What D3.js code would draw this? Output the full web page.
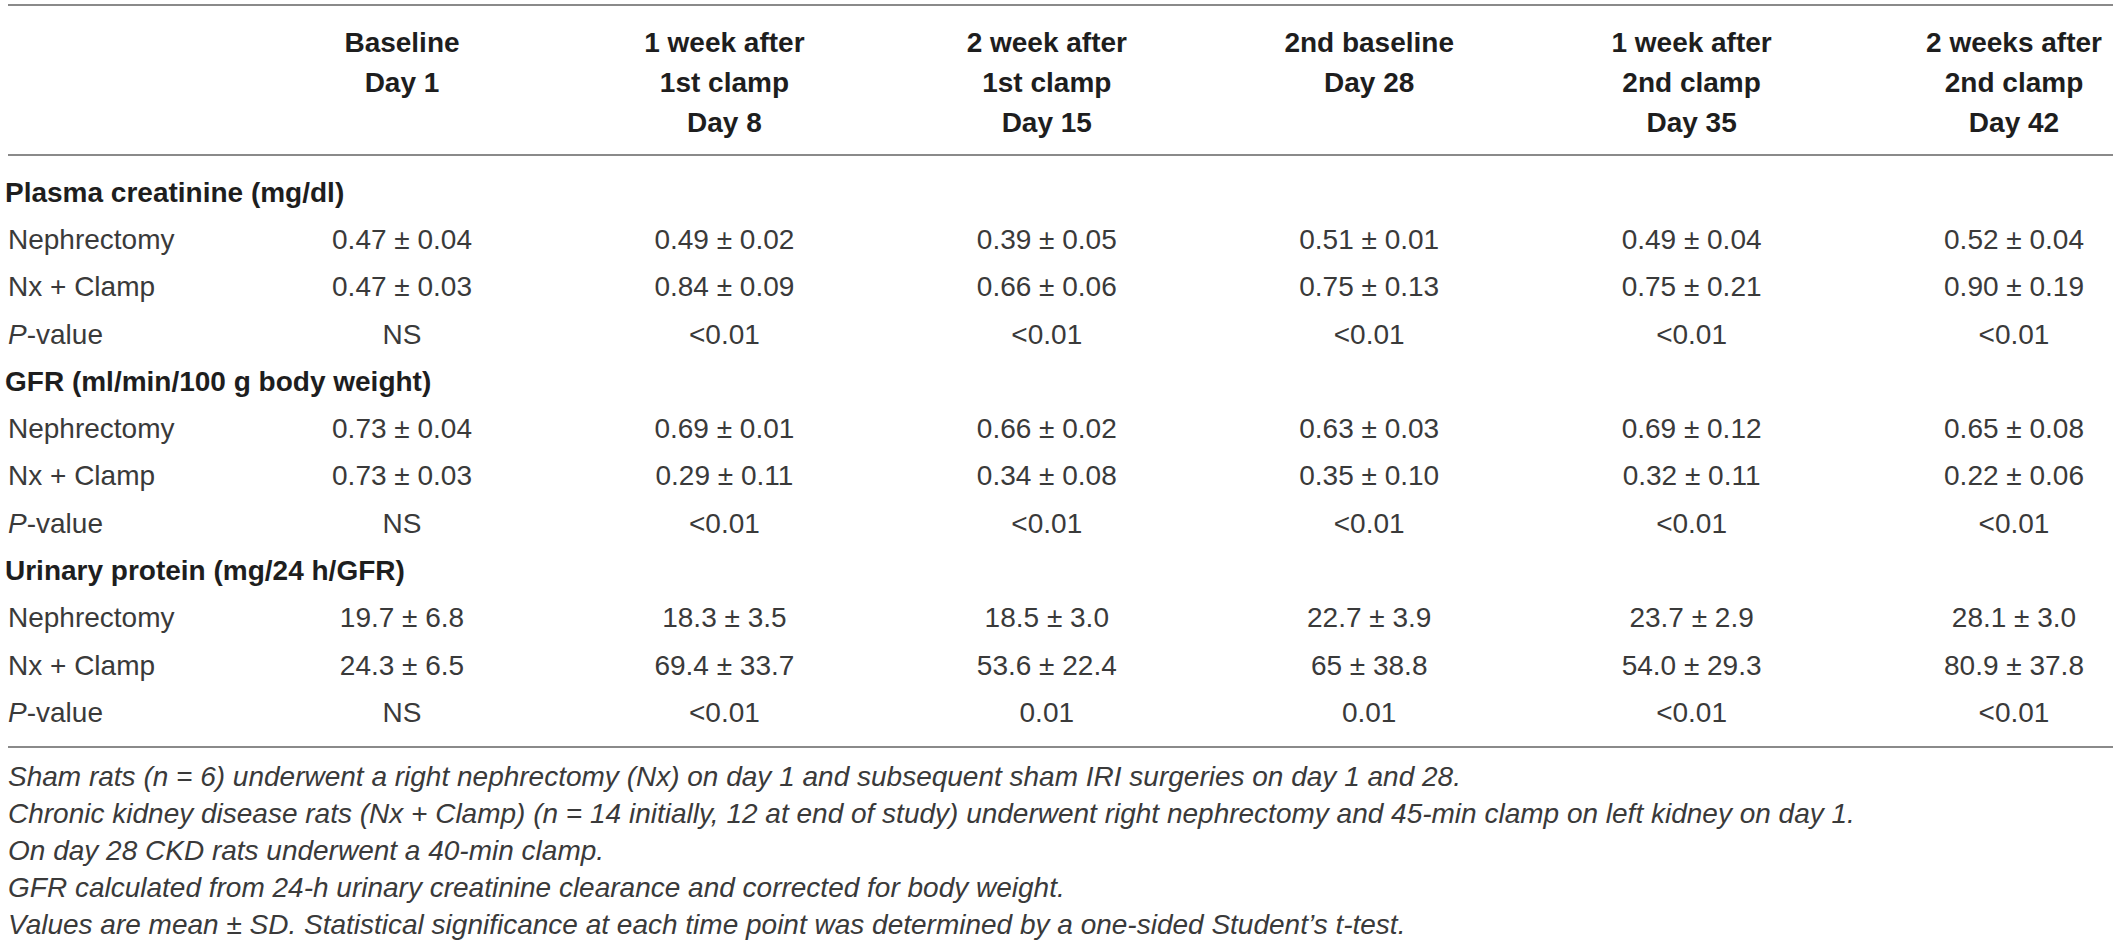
<!DOCTYPE html>
<html>
<head>
<meta charset="utf-8">
<script src="https://cdn.jsdelivr.net/npm/d3@7"></script>
<style>
  html, body { margin: 0; padding: 0; background: #fff; }
  svg { display: block; font-family: "Liberation Sans", Arial, Helvetica, sans-serif; }
</style>
</head>
<body>
<svg id="fig" width="2120" height="945"></svg>
<script>
// column headers (one array per column, one entry per line)
const headers = [
    ["Baseline", "Day 1"],
    ["1 week after", "1st clamp", "Day 8"],
    ["2 week after", "1st clamp", "Day 15"],
    ["2nd baseline", "Day 28"],
    ["1 week after", "2nd clamp", "Day 35"],
    ["2 weeks after", "2nd clamp", "Day 42"]
];

const sections = [
    "Plasma creatinine (mg/dl)",
    "GFR (ml/min/100 g body weight)",
    "Urinary protein (mg/24 h/GFR)"
];
const groupLabels = ["Nephrectomy", "Nx + Clamp", "P-value"];

// plasma creatinine
const creatNx = ["0.47 ± 0.04", "0.49 ± 0.02", "0.39 ± 0.05", "0.51 ± 0.01", "0.49 ± 0.04", "0.52 ± 0.04"];
const creatClamp = ["0.47 ± 0.03", "0.84 ± 0.09", "0.66 ± 0.06", "0.75 ± 0.13", "0.75 ± 0.21", "0.90 ± 0.19"];
const creatP = ["NS", "<0.01", "<0.01", "<0.01", "<0.01", "<0.01"];

// GFR
const gfrNx = ["0.73 ± 0.04", "0.69 ± 0.01", "0.66 ± 0.02", "0.63 ± 0.03", "0.69 ± 0.12", "0.65 ± 0.08"];
const gfrClamp = ["0.73 ± 0.03", "0.29 ± 0.11", "0.34 ± 0.08", "0.35 ± 0.10", "0.32 ± 0.11", "0.22 ± 0.06"];
const gfrP = ["NS", "<0.01", "<0.01", "<0.01", "<0.01", "<0.01"];

// urinary protein
const protNx = ["19.7 ± 6.8", "18.3 ± 3.5", "18.5 ± 3.0", "22.7 ± 3.9", "23.7 ± 2.9", "28.1 ± 3.0"];
const protClamp = ["24.3 ± 6.5", "69.4 ± 33.7", "53.6 ± 22.4", "65 ± 38.8", "54.0 ± 29.3", "80.9 ± 37.8"];
const protP = ["NS", "<0.01", "0.01", "0.01", "<0.01", "<0.01"];

const footnotes = [
    "Sham rats (n = 6) underwent a right nephrectomy (Nx) on day 1 and subsequent sham IRI surgeries on day 1 and 28.",
    "Chronic kidney disease rats (Nx + Clamp) (n = 14 initially, 12 at end of study) underwent right nephrectomy and 45-min clamp on left kidney on day 1.",
    "On day 28 CKD rats underwent a 40-min clamp.",
    "GFR calculated from 24-h urinary creatinine clearance and corrected for body weight.",
    "Values are mean ± SD. Statistical significance at each time point was determined by a one-sided Student’s t-test."
];

// rows of the body, built from the arrays above
const blocks = [
    [creatNx, creatClamp, creatP],
    [gfrNx, gfrClamp, gfrP],
    [protNx, protClamp, protP]
];
const rows = [];
blocks.forEach((b, s) => {
    rows.push({type: "section", label: sections[s]});
    b.forEach((vals, g) => rows.push({type: "data", label: groupLabels[g], values: vals}));
});

const svg = d3.select("#fig");
const fontSize = 28;
const textColor = "#3a3a3a";
const boldColor = "#1e1e1e";
const ruleColor = "#8a8a8a";

const xLeft = 8, xRight = 2113;
const xCol = d3.scaleLinear().domain([0, headers.length - 1]).range([402, 2014]);
const yHead = d3.scaleLinear().domain([0, 1]).range([42, 82]);
const yRow = d3.scaleLinear().domain([0, rows.length - 1]).range([192, 712]);
const yNote = d3.scaleLinear().domain([0, footnotes.length - 1]).range([776, 924]);

// horizontal rules
svg.selectAll("line.rule")
    .data([5, 155, 747])
    .enter()
    .append("line")
    .attr("class", "rule")
    .attr("x1", xLeft).attr("x2", xRight)
    .attr("y1", d => d).attr("y2", d => d)
    .attr("stroke", ruleColor)
    .attr("stroke-width", 2);

// header
const head = svg.selectAll("g.head")
    .data(headers)
    .enter()
    .append("g")
    .attr("class", "head");

head.selectAll("text")
    .data((d, i) => d.map((t, j) => ({t, i, j})))
    .enter()
    .append("text")
    .attr("x", d => xCol(d.i))
    .attr("y", d => yHead(d.j))
    .attr("dy", "0.35em")
    .attr("text-anchor", "middle")
    .attr("font-size", fontSize)
    .attr("font-weight", "bold")
    .attr("fill", boldColor)
    .text(d => d.t);

// body rows
const row = svg.selectAll("g.row")
    .data(rows)
    .enter()
    .append("g")
    .attr("class", "row")
    .attr("transform", (d, i) => `translate(0,${yRow(i)})`);

row.filter(d => d.type === "section")
    .append("text")
    .attr("x", 5)
    .attr("dy", "0.35em")
    .attr("font-size", fontSize)
    .attr("font-weight", "bold")
    .attr("fill", boldColor)
    .text(d => d.label);

const labels = row.filter(d => d.type === "data")
    .append("text")
    .attr("x", 8)
    .attr("dy", "0.35em")
    .attr("font-size", fontSize)
    .attr("fill", textColor);

labels.each(function(d) {
    const t = d3.select(this);
    if (d.label === "P-value") {
        t.append("tspan").attr("font-style", "italic").text("P");
        t.append("tspan").text("-value");
    } else {
        t.text(d.label);
    }
});

row.filter(d => d.type === "data")
    .selectAll("text.val")
    .data(d => d.values)
    .enter()
    .append("text")
    .attr("class", "val")
    .attr("x", (d, i) => xCol(i))
    .attr("dy", "0.35em")
    .attr("text-anchor", "middle")
    .attr("font-size", fontSize)
    .attr("fill", textColor)
    .text(d => d);

// footnotes
svg.selectAll("text.note")
    .data(footnotes)
    .enter()
    .append("text")
    .attr("class", "note")
    .attr("x", 8)
    .attr("y", (d, i) => yNote(i))
    .attr("dy", "0.35em")
    .attr("font-size", fontSize)
    .attr("font-style", "italic")
    .attr("fill", textColor)
    .text(d => d);
</script>
</body>
</html>
